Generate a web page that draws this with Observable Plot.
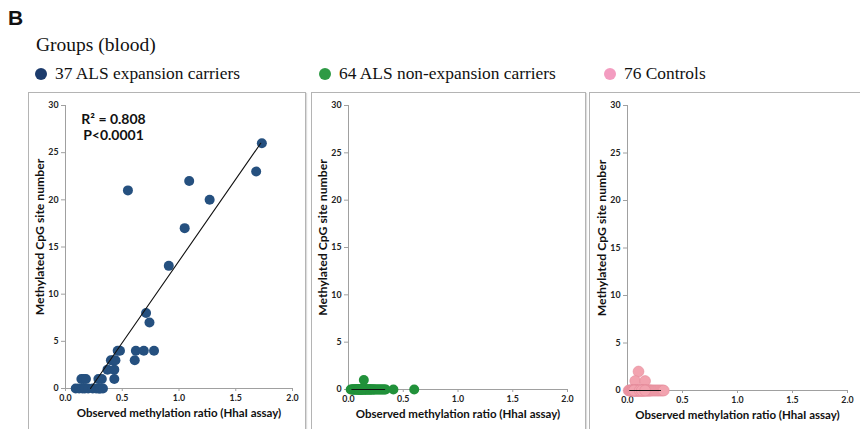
<!DOCTYPE html>
<html>
<head>
<meta charset="utf-8">
<script src="https://cdn.jsdelivr.net/npm/d3@7"></script>
<script src="https://cdn.jsdelivr.net/npm/@observablehq/plot@0.6"></script>
<style>
  html, body { margin: 0; padding: 0; background: #fff; }
  #wrap { position: relative; width: 860px; height: 429px; overflow: hidden; background: #fff; }
  .abs { position: absolute; }
  #letter { left: 8px; top: 6px; font: bold 21px "Liberation Sans", Arial, sans-serif; color: #111; }
  #groups { left: 36px; top: 34px; font: 19.5px "Liberation Serif", "Times New Roman", serif; color: #111; }
  .leg { top: 63px; font: 17.4px "Liberation Serif", "Times New Roman", serif; color: #111; white-space: nowrap; }
  .leg .sw { display: inline-block; width: 12px; height: 12px; border-radius: 50%; vertical-align: -1px; margin-right: 8px; }
  .frame { top: 92px; height: 360px; border: 1px solid #b4b4b4; box-sizing: border-box; box-shadow: 1px 1px 1px #ddd; }
</style>
</head>
<body>
<div id="wrap">
  <div id="letter" class="abs">B</div>
  <div id="groups" class="abs">Groups (blood)</div>
</div>
<script>
// ---- data ----
const groups = ["37 ALS expansion carriers", "64 ALS non-expansion carriers", "76 Controls"];
const legendColors = ["#1c3b6c", "#2e9a45", "#f39cc0"];
const dotColors = ["#25507f", "#21913a", "#f2a3af"];

const xTicks = [0, 0.5, 1.0, 1.5, 2.0];
const yTicks = [0, 5, 10, 15, 20, 25, 30];
const xLabel = "Observed methylation ratio (HhaI assay)";
const yLabel = "Methylated CpG site number";
const stats = ["R² = 0.808\nP<0.0001"];

// ALS expansion carriers (37)
const expX = [0.09, 0.12, 0.15, 0.17, 0.20, 0.24, 0.27, 0.29, 0.30, 0.31, 0.33,
              0.14, 0.16, 0.18, 0.29, 0.32, 0.43,
              0.37, 0.43,
              0.40, 0.42, 0.44, 0.61,
              0.46, 0.48, 0.62, 0.69, 0.78,
              0.71, 0.74,
              0.91, 1.05, 1.09, 0.55, 1.27, 1.68, 1.73];
const expY = [0, 0, 0, 0, 0, 0, 0, 0, 0, 0, 0,
              1, 1, 1, 1, 1, 1,
              2, 2,
              3, 3, 3, 3,
              4, 4, 4, 4, 4,
              8, 7,
              13, 17, 22, 21, 20, 23, 26];
const expFitX = [0.22, 1.72];
const expFitY = [0, 26];

// ALS non-expansion carriers (64)
const nonX = [0.02, 0.03, 0.04, 0.04, 0.05, 0.05, 0.06, 0.06, 0.07, 0.07,
              0.08, 0.08, 0.08, 0.09, 0.09, 0.09, 0.10, 0.10, 0.10, 0.11,
              0.11, 0.11, 0.12, 0.12, 0.12, 0.13, 0.13, 0.13, 0.14, 0.14,
              0.15, 0.15, 0.15, 0.16, 0.16, 0.17, 0.17, 0.18, 0.18, 0.19,
              0.19, 0.20, 0.20, 0.21, 0.21, 0.22, 0.23, 0.23, 0.24, 0.25,
              0.26, 0.27, 0.28, 0.29, 0.30, 0.31, 0.32, 0.33, 0.34, 0.10, 0.12,
              0.41, 0.60, 0.14];
const nonY = [0, 0, 0, 0, 0, 0, 0, 0, 0, 0,
              0, 0, 0, 0, 0, 0, 0, 0, 0, 0,
              0, 0, 0, 0, 0, 0, 0, 0, 0, 0,
              0, 0, 0, 0, 0, 0, 0, 0, 0, 0,
              0, 0, 0, 0, 0, 0, 0, 0, 0, 0,
              0, 0, 0, 0, 0, 0, 0, 0, 0, 0, 0,
              0, 0, 1];
const nonFitX = [0.03, 0.33];
const nonFitY = [0, 0];

// Controls (76)
const ctrlX = [0.10, 0.07, 0.16,
               0.01, 0.02, 0.02, 0.03, 0.03, 0.04, 0.04, 0.04, 0.05, 0.05,
               0.05, 0.06, 0.06, 0.06, 0.07, 0.07, 0.07, 0.07, 0.08, 0.08,
               0.08, 0.08, 0.09, 0.09, 0.09, 0.09, 0.10, 0.10, 0.10, 0.10,
               0.11, 0.11, 0.11, 0.12, 0.12, 0.12, 0.13, 0.13, 0.13, 0.14,
               0.14, 0.14, 0.15, 0.15, 0.15, 0.16, 0.16, 0.17, 0.17, 0.18,
               0.18, 0.19, 0.19, 0.20, 0.20, 0.21, 0.21, 0.22, 0.23, 0.24,
               0.25, 0.26, 0.27, 0.28, 0.29, 0.30, 0.31, 0.32, 0.33, 0.06, 0.11, 0.13, 0.16];
const ctrlY = [2, 1, 1,
               0, 0, 0, 0, 0, 0, 0, 0, 0, 0,
               0, 0, 0, 0, 0, 0, 0, 0, 0, 0,
               0, 0, 0, 0, 0, 0, 0, 0, 0, 0,
               0, 0, 0, 0, 0, 0, 0, 0, 0, 0,
               0, 0, 0, 0, 0, 0, 0, 0, 0, 0,
               0, 0, 0, 0, 0, 0, 0, 0, 0, 0,
               0, 0, 0, 0, 0, 0, 0, 0, 0, 0, 0, 0, 0];
const ctrlFitX = [0.02, 0.30];
const ctrlFitY = [0, 0];

// ---- build ----
const wrap = document.getElementById("wrap");

// legend
const legendLeft = [35, 319, 604];
groups.forEach((g, i) => {
  const d = document.createElement("div");
  d.className = "abs leg";
  d.style.left = legendLeft[i] + "px";
  d.innerHTML = `<span class="sw" style="background:${legendColors[i]}"></span>${g}`;
  wrap.appendChild(d);
});

const panels = [
  {frameL: 28, frameR: 306, plotL: 65, plotR: 292, y0: 388, xs: expX, ys: expY, fx: expFitX, fy: expFitY, color: dotColors[0], r: 5.0, stats: true},
  {frameL: 311, frameR: 586, plotL: 348, plotR: 567, y0: 389, xs: nonX, ys: nonY, fx: nonFitX, fy: nonFitY, color: dotColors[1], r: 5.0},
  {frameL: 589, frameR: 862, plotL: 627, plotR: 847, y0: 390, xs: ctrlX, ys: ctrlY, fx: ctrlFitX, fy: ctrlFitY, color: dotColors[2], r: 5.4, stroke: "#e48c9b"}
];

const panelTop = 92, yTop = 105, svgH = 429 - 92;

panels.forEach(p => {
  const frame = document.createElement("div");
  frame.className = "abs frame";
  frame.style.left = p.frameL + "px";
  frame.style.width = (p.frameR - p.frameL) + "px";
  wrap.appendChild(frame);

  const width = p.frameR - p.frameL;
  const data = p.xs.map((x, i) => ({x, y: p.ys[i]}));
  const fit = p.fx.map((x, i) => ({x, y: p.fy[i]}));
  const marks = [
    Plot.ruleY([0], {stroke: "#a0a0a0"}),
    Plot.ruleX([0], {stroke: "#a0a0a0"}),
    Plot.axisX({ticks: xTicks, tickFormat: d3.format(".1f"), tickSize: 3, tickPadding: 3, stroke: "#a0a0a0",
                fill: "#222", fontWeight: "bold", fontSize: 8.8, label: null}),
    Plot.axisY({ticks: yTicks, tickFormat: d3.format("d"), tickSize: 4, tickPadding: 3, stroke: "#a0a0a0",
                fill: "#222", fontWeight: "bold", fontSize: 8.8, label: null}),
    Plot.text([xLabel], {frameAnchor: "bottom", dy: 28, fontSize: 11.5, fontWeight: "bold", fill: "#111"}),
    Plot.text([yLabel], {frameAnchor: "left", textAnchor: "middle", rotate: -90, dx: -25, dy: -10, fontSize: 12.2, fontWeight: "bold", fill: "#111"}),
    Plot.dot(data, {x: "x", y: "y", r: p.r, fill: p.color, stroke: p.stroke || "none", strokeWidth: 0.6}),
    Plot.line(fit, {x: "x", y: "y", stroke: "#111", strokeWidth: 1.1})
  ];
  if (p.stats) {
    marks.push(Plot.text(stats, {frameAnchor: "top-left", textAnchor: "middle", lineAnchor: "top", dx: 48, dy: 8,
      fontSize: 14, fontWeight: "bold", lineHeight: 1.1, fill: "#111"}));
  }
  const chart = Plot.plot({
    width, height: svgH,
    marginLeft: p.plotL - p.frameL,
    marginRight: p.frameR - p.plotR,
    marginTop: yTop - panelTop,
    marginBottom: svgH - (p.y0 - panelTop),
    x: {domain: [0, 2]},
    y: {domain: [0, 30]},
    style: {fontFamily: "Lato, 'Open Sans', sans-serif", background: "transparent", overflow: "visible"},
    marks
  });
  chart.style.position = "absolute";
  chart.style.left = p.frameL + "px";
  chart.style.top = panelTop + "px";
  wrap.appendChild(chart);
});
</script>
</body>
</html>
